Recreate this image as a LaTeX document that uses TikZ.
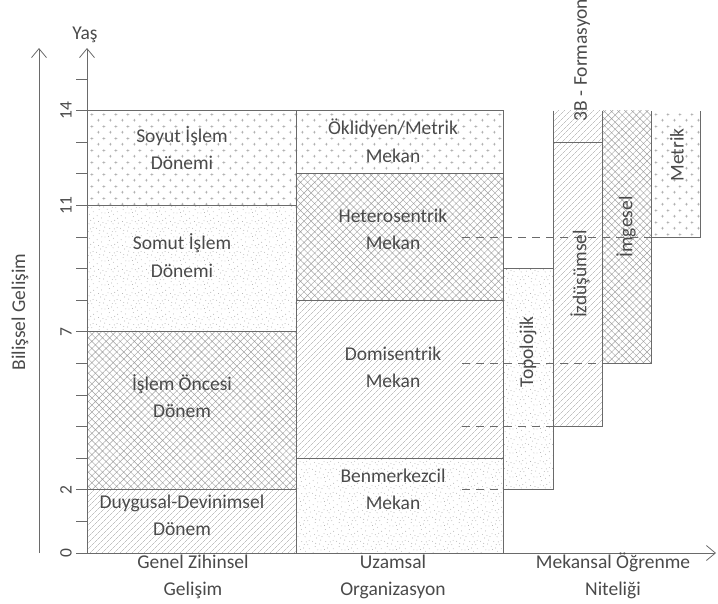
\documentclass[tikz,border=0pt]{standalone}
\usepackage{fontspec}
\setmainfont{Carlito}
\usetikzlibrary{patterns.meta,arrows.meta}
\definecolor{ln}{HTML}{6A6A6A}
\definecolor{tx}{HTML}{4A4A4A}
\definecolor{pc}{HTML}{A0A0A0}

\tikzdeclarepattern{
  name=pluses, type=colored,
  bottom left={(0pt,0pt)}, top right={(12pt,12pt)}, tile size={(12pt,12pt)},
  code={
    \draw[pc, line width=0.5pt] (1pt,3pt)--(4pt,3pt) (2.5pt,1.5pt)--(2.5pt,4.5pt);
    \draw[pc, line width=0.5pt] (7pt,9pt)--(10pt,9pt) (8.5pt,7.5pt)--(8.5pt,10.5pt);
  }
}
\tikzdeclarepattern{
  name=stipple, type=colored,
  bottom left={(0pt,0pt)}, top right={(24pt,24pt)}, tile size={(24pt,24pt)},
  code={
    \foreach \a/\b in {1.2/3.4,5.7/1.1,9.3/6.2,13.8/2.5,18.1/4.9,22.4/0.8,3.3/9.7,7.9/12.4,11.6/10.1,16.2/8.3,20.5/11.7,0.6/15.2,4.8/18.6,9.1/16.4,14.3/14.9,17.7/19.8,21.9/16.1,2.7/22.3,7.2/21.1,12.5/23.0,15.9/22.0,19.4/23.4,23.1/20.6,6.1/6.3,10.4/20.0,18.9/14.6,13.0/6.8,3.9/13.0,22.0/7.5,16.8/11.9}
      {\fill[pc] (\a pt,\b pt) circle[radius=0.45pt];}
  }
}

\tikzset{
  pl/.style={pattern={Lines[angle=45,distance=4pt,line width=0.45pt]}, pattern color=pc},
  ph/.style={pattern={Hatch[angle=45,distance=5pt,line width=0.45pt]}, pattern color=pc},
  pd/.style={pattern=stipple},
  pp/.style={pattern=pluses},
  edge/.style={draw=ln, line width=0.8pt},
  dsh/.style={draw=ln, line width=0.8pt, dash pattern=on 8pt off 6pt},
  lbl/.style={text=tx, font=\fontsize{19.5}{23}\selectfont, inner sep=0pt, anchor=base},
  rlbl/.style={text=tx, font=\fontsize{19.5}{23}\selectfont, inner sep=0pt, rotate=90},
  tlbl/.style={text=tx, font=\fontsize{17.5}{20}\selectfont, inner sep=0pt, rotate=90},
  axis/.style={draw=ln, line width=0.8pt, -{Straight Barb[length=9pt,width=15pt,line width=0.8pt]}}
}

\begin{document}
\begin{tikzpicture}[x=1pt,y=-1pt]
\useasboundingbox (0,0) rectangle (718,603);

% column 1 fills
\fill[pl] (87,553) rectangle (296,489.8);
\fill[ph] (87,489.8) rectangle (296,331.8);
\fill[pd] (87,331.8) rectangle (296,205.4);
\fill[pp] (87,205.4) rectangle (296,110.6);
% column 2 fills
\fill[pd] (296,553) rectangle (503,458.2);
\fill[pl] (296,458.2) rectangle (503,300.2);
\fill[ph] (296,300.2) rectangle (503,173.8);
\fill[pp] (296,173.8) rectangle (503,110.6);
% right columns
\fill[pd] (503,489.8) rectangle (553,268.6);
\fill[pl] (553,426.6) rectangle (602,110.6);
\fill[ph] (602,363.4) rectangle (651,110.6);
\fill[pp] (651,237) rectangle (700,110.6);

% outlines
\draw[edge] (87,553) rectangle (296,110.6);
\draw[edge] (87,489.8) -- (296,489.8) (87,331.8) -- (296,331.8) (87,205.4) -- (296,205.4);
\draw[edge] (296,553) rectangle (503,110.6);
\draw[edge] (296,458.2) -- (503,458.2) (296,300.2) -- (503,300.2) (296,173.8) -- (503,173.8);
\draw[edge] (503,489.8) rectangle (553,268.6);
\draw[edge] (553,110.6) -- (553,426.6) -- (602,426.6) -- (602,110.6);
\draw[edge] (553,142.2) -- (602,142.2);
\draw[edge] (602,363.4) -- (651,363.4) -- (651,110.6);
\draw[edge] (651,237) -- (700,237) -- (700,110.6);

% dashed guides
\draw[dsh] (462,489.8) -- (503,489.8);
\draw[dsh] (462,426.6) -- (553,426.6);
\draw[dsh] (462,363.4) -- (602,363.4);
\draw[dsh] (462,237) -- (651,237);

% axes
\coordinate (o) at (87,553);
\coordinate (ytop) at (87,48);
\coordinate (xs) at (76,553);
\coordinate (xe) at (716,553);
\coordinate (bb) at (39,553);
\coordinate (bt) at (39,48);
\draw[axis] (o) -- (ytop);
\draw[axis] (xs) -- (xe);
\draw[axis] (bb) -- (bt);
\foreach \a in {0,...,15} \draw[edge] (76,553-31.6*\a) -- (87,553-31.6*\a);

% tick labels
\node[tlbl] (t0) at (66,553) {0};
\node[tlbl] (t2) at (66,489.8) {2};
\node[tlbl] (t7) at (66,331.8) {7};
\node[tlbl] (t11) at (66,205.4) {11};
\node[tlbl] (t14) at (66,110.6) {14};

\node[lbl] (yas) at (85,39) {Yaş};
\node[rlbl] (bil) at (20,312) {Bilişsel Gelişim};

% column 1 labels
\node[lbl] (s1) at (182,142) {Soyut İşlem};
\node[lbl] (s2) at (182,169) {Dönemi};
\node[lbl] (m1) at (182,249) {Somut İşlem};
\node[lbl] (m2) at (182,277) {Dönemi};
\node[lbl] (i1) at (182,390) {İşlem Öncesi};
\node[lbl] (i2) at (182,417) {Dönem};
\node[lbl] (d1) at (182,508) {Duygusal-Devinimsel};
\node[lbl] (d2) at (182,535) {Dönem};

% column 2 labels
\node[lbl] (e1) at (393,134) {Öklidyen/Metrik};
\node[lbl] (e2) at (393,162) {Mekan};
\node[lbl] (h1) at (393,222) {Heterosentrik};
\node[lbl] (h2) at (393,249) {Mekan};
\node[lbl] (dm1) at (393,360) {Domisentrik};
\node[lbl] (dm2) at (393,387) {Mekan};
\node[lbl] (b1) at (393,482) {Benmerkezcil};
\node[lbl] (b2) at (393,509) {Mekan};

% right labels
\node[rlbl] (topo) at (528,352) {Topolojik};
\node[rlbl] (izd) at (580,274) {İzdüşümsel};
\node[rlbl] (img) at (626,227) {İmgesel};
\node[rlbl] (met) at (677,155) {Metrik};
\node[rlbl] (form) at (582,60) {3B - Formasyon};

% axis labels
\node[lbl] (g1) at (193,568) {Genel Zihinsel};
\node[lbl] (g2) at (193,595) {Gelişim};
\node[lbl] (u1) at (393,568) {Uzamsal};
\node[lbl] (u2) at (393,595) {Organizasyon};
\node[lbl] (k1) at (613,568) {Mekansal Öğrenme};
\node[lbl] (k2) at (613,595) {Niteliği};
\end{tikzpicture}
\end{document}
